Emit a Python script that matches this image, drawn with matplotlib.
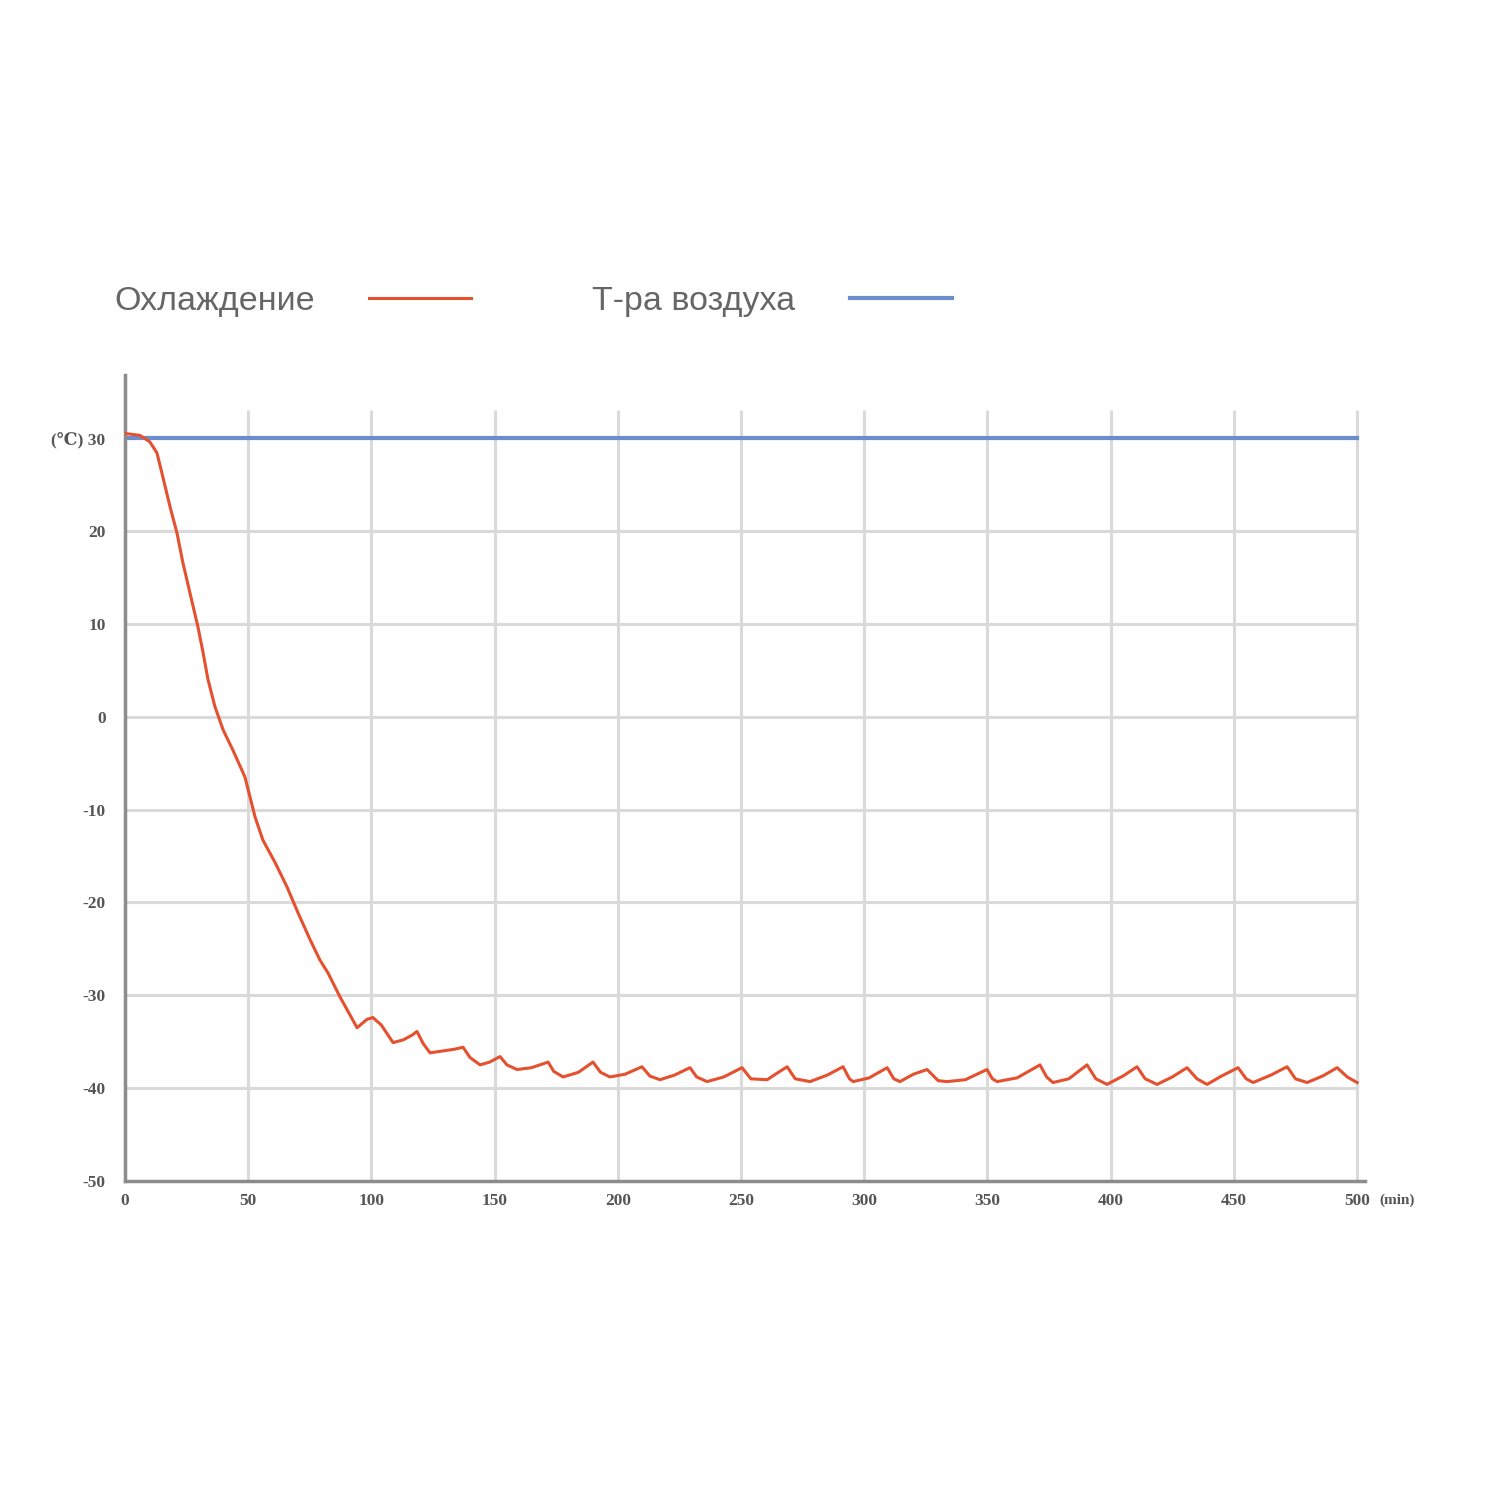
import numpy as np
import matplotlib
matplotlib.use('Agg')
import matplotlib.pyplot as plt

# cooling curve (minutes, degC)
t_cool = [0, 6.1, 10.1, 13.0, 15.4, 18.3, 21.1, 23.5, 26.4, 29.6, 31.7, 33.7, 36.5,
          39.8, 43.8, 48.7, 50.7, 52.8, 56.0, 60.9, 65.7, 70.2, 75.1, 79.1, 82.4,
          87.3, 94.2, 98.2, 100.6, 104, 108.8, 113, 116.5, 118.5, 121, 123.8, 129,
          134, 137.2, 140, 144.1, 148, 152.2, 155, 159.1, 165, 171.7, 174, 177.8,
          184, 189.9, 193, 196.8, 203, 209.8, 213, 217.1, 223, 229.3, 232, 236.2,
          243, 250.4, 254, 260.6, 264, 268.7, 272, 278.0, 285, 291.4, 294, 295.5,
          302, 309.3, 312, 314.5, 320, 325.5, 330, 333.6, 341, 349.8, 352, 353.9,
          362, 371.3, 374, 376.6, 383, 390.4, 394, 398.5, 405, 410.7, 414, 418.8,
          425, 431.0, 435, 439.1, 445, 451.7, 455, 457.8, 465, 471.6, 475, 479.7,
          486, 491.9, 496, 500]
T_cool = [30.5, 30.3, 29.6, 28.4, 25.8, 22.6, 19.8, 16.6, 13.3, 9.7, 6.9, 4.0, 1.1,
          -1.4, -3.6, -6.5, -8.6, -10.8, -13.3, -15.7, -18.3, -21.1, -24.0, -26.2, -27.6,
          -30.2, -33.5, -32.6, -32.4, -33.2, -35.1, -34.8, -34.3, -33.9, -35.2, -36.2, -36.0,
          -35.8, -35.6, -36.7, -37.5, -37.2, -36.6, -37.5, -38.0, -37.8, -37.2, -38.2, -38.8,
          -38.3, -37.2, -38.3, -38.8, -38.5, -37.7, -38.7, -39.1, -38.6, -37.8, -38.8, -39.3,
          -38.8, -37.8, -39.0, -39.1, -38.5, -37.7, -39.0, -39.3, -38.6, -37.7, -39.0, -39.3,
          -38.9, -37.8, -39.0, -39.3, -38.5, -38.0, -39.2, -39.3, -39.1, -38.0, -39.0, -39.3,
          -38.9, -37.5, -38.8, -39.4, -39.0, -37.5, -39.0, -39.6, -38.7, -37.7, -39.0, -39.6,
          -38.8, -37.8, -39.0, -39.6, -38.7, -37.8, -39.0, -39.4, -38.6, -37.7, -39.0, -39.4,
          -38.7, -37.8, -38.8, -39.4]

t_air = [0, 500]
T_air = [30, 30]

x_ticks = [0, 50, 100, 150, 200, 250, 300, 350, 400, 450, 500]
y_ticks = [-50, -40, -30, -20, -10, 0, 10, 20, 30]
y_labels = ['-50', '-40', '-30', '-20', '-10', '0', '10', '20', '(\u2103) 30']

orange = '#e5502e'
blue = '#6c8ccc'
axis_grey = '#8c8c8c'
grid_grey = '#dadada'
label_grey = '#555555'

fig = plt.figure(figsize=(15, 15), dpi=100)
ax = fig.add_axes([0.0833, 0.2127, 0.8267, 0.5373])

# grid drawn by hand: vertical lines stop below the top of the y axis
ax.vlines(x_ticks[1:], -50, 33, color=grid_grey, lw=2.2, zorder=1)
ax.hlines(y_ticks[1:], 0, 500, color=grid_grey, lw=2.2, zorder=1)

l1, = ax.plot(t_cool, T_cool, color=orange, lw=2.2, zorder=3,
              solid_joinstyle='round', label='Охлаждение')
l2, = ax.plot(t_air, T_air, color=blue, lw=3, zorder=2, label='Т-ра воздуха')

ax.set_xlim(0, 503.2)
ax.set_ylim(-50, 36.8)
for s in ['top', 'right']:
    ax.spines[s].set_visible(False)
for s in ['left', 'bottom']:
    ax.spines[s].set_color(axis_grey)
    ax.spines[s].set_linewidth(2.5)

tick_font = dict(family=['Liberation Serif', 'DejaVu Serif'], weight='bold', size=12.5)
ax.set_xticks(x_ticks)
ax.set_xticklabels([str(v) for v in x_ticks], color=label_grey, **tick_font)
ax.set_yticks(y_ticks)
ax.set_yticklabels(y_labels, color=label_grey, **tick_font)
ax.tick_params(length=0, pad=9)
ax.tick_params(axis='y', pad=14)
ax.annotate('(min)', xy=(509, 0), xycoords=('data', 'axes fraction'),
            xytext=(0, -9), textcoords='offset points', ha='left', va='top',
            color=label_grey, **dict(tick_font, size=11))

fig.legend(handles=[l1, l2], loc='center left', bbox_to_anchor=(0.076, 0.799),
           ncol=2, frameon=False, markerfirst=False, borderpad=0,
           borderaxespad=0, handlelength=3.0, handletextpad=1.6,
           columnspacing=3.55,
           prop=dict(family='Liberation Sans', size=24.5), labelcolor='#666666')

fig.savefig('out.png', dpi=100, facecolor='white')
